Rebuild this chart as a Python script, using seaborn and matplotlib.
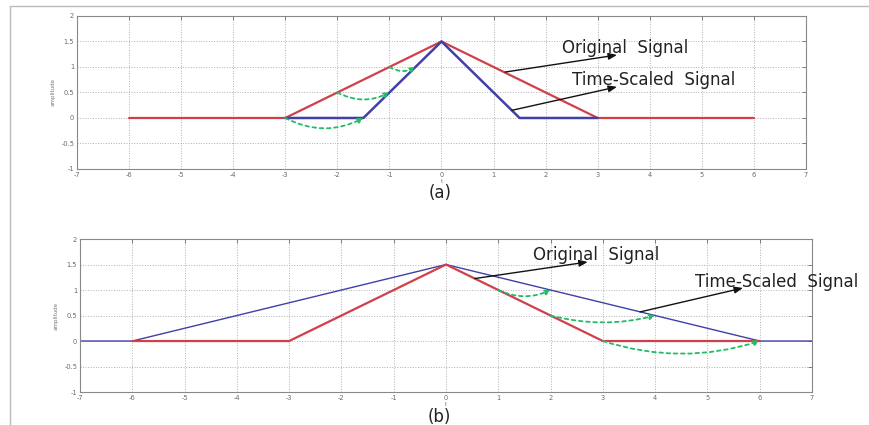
import matplotlib
matplotlib.use("Agg")
import matplotlib.pyplot as plt
import matplotlib.lines as mlines
import seaborn as sns
import numpy as np
import pandas as pd

sns.set_style("white")
plt.rcParams['font.family'] = ['DejaVu Sans']

# ---- data ----
# panel (a): compression
t_orig_a = [-6, -3, 0, 3, 6]
y_orig_a = [0, 0, 1.5, 0, 0]
t_scaled_a = [-3, -1.5, 0, 1.5, 3]
y_scaled_a = [0, 0, 1.5, 0, 0]
# panel (b): expansion
t_orig_b = [-6, -3, 0, 3, 6]
y_orig_b = [0, 0, 1.5, 0, 0]
t_scaled_b = [-7, -6, 0, 6, 7]
y_scaled_b = [0, 0, 1.5, 0, 0]

# green mapping arcs: (x_from, x_to, level)
arcs_a_from = [-3, -2, -1]
arcs_a_to = [-1.5, -1, -0.5]
arcs_a_level = [0, 0.5, 1]
arcs_b_from = [3, 2, 1]
arcs_b_to = [6, 4, 2]
arcs_b_level = [0, 0.5, 1]

labels = ["Original  Signal", "Time-Scaled  Signal"]
xticks = list(range(-7, 8))
yticks = [-1, -0.5, 0, 0.5, 1, 1.5, 2]
ytick_labels = ["-1", "-0.5", "0", "0.5", "1", "1.5", "2"]

RED = "#d0404a"
BLUE = "#4040a8"
GREEN = "#22bb66"

fig = plt.figure(figsize=(8.69, 4.25), dpi=100)
ax_a = fig.add_axes([0.0886, 0.6024, 0.8389, 0.36])
ax_b = fig.add_axes([0.0921, 0.0776, 0.8423, 0.36])


def style_axes(ax):
    ax.set_xlim(-7, 7)
    ax.set_ylim(-1, 2)
    ax.set_xticks(xticks)
    ax.set_xticklabels([str(v) for v in xticks])
    ax.set_yticks(yticks)
    ax.set_yticklabels(ytick_labels)
    ax.grid(True, linestyle=':', color='#b0b0b0', lw=0.7)
    ax.tick_params(direction='in', length=3, width=0.6, labelsize=4.8,
                   colors='#6a6a6a', top=True, right=True, pad=2)
    for s in ax.spines.values():
        s.set_color('#888888')
        s.set_linewidth(0.8)
    ax.set_xlabel('t', fontsize=4, color='#777777', labelpad=1)
    ax.set_ylabel('amplitude', fontsize=4, color='#777777', labelpad=4)


def draw_arcs(ax, xs, xe, lv, rads):
    for a, b, l, r in zip(xs, xe, lv, rads):
        ax.annotate('', xy=(b, l), xytext=(a, l),
                    arrowprops=dict(arrowstyle='-|>,head_length=0.3,head_width=0.15',
                                    color=GREEN, lw=1.3, linestyle=(0, (2, 2)),
                                    connectionstyle=f'arc3,rad={r}',
                                    shrinkA=0, shrinkB=0))


TXT = dict(fontsize=12, va='center', ha='left', color='#222222')
ARW = dict(arrowstyle='-|>,head_length=0.5,head_width=0.2',
           color='#111111', lw=1.0, shrinkA=0, shrinkB=0)

# panel (a)
sns.lineplot(x=t_orig_a, y=y_orig_a, ax=ax_a, color=RED, lw=1.6)
sns.lineplot(x=t_scaled_a, y=y_scaled_a, ax=ax_a, color=BLUE, lw=1.8)
draw_arcs(ax_a, arcs_a_from, arcs_a_to, arcs_a_level, [0.26, 0.26, 0.3])
style_axes(ax_a)
ax_a.text(2.31, 1.37, labels[0], **TXT)
ax_a.text(2.51, 0.745, labels[1], **TXT)
ax_a.annotate('', xy=(3.37, 1.235), xytext=(1.22, 0.9), arrowprops=ARW)
ax_a.annotate('', xy=(3.37, 0.61), xytext=(1.35, 0.15), arrowprops=ARW)

# panel (b)
sns.lineplot(x=t_scaled_b, y=y_scaled_b, ax=ax_b, color=BLUE, lw=1.0)
sns.lineplot(x=t_orig_b, y=y_orig_b, ax=ax_b, color=RED, lw=1.6)
draw_arcs(ax_b, arcs_b_from, arcs_b_to, arcs_b_level, [0.16, 0.13, 0.23])
style_axes(ax_b)
ax_b.text(1.66, 1.69, labels[0], **TXT)
ax_b.text(4.76, 1.157, labels[1], clip_on=False, **TXT)
ax_b.annotate('', xy=(2.71, 1.55), xytext=(0.55, 1.225), arrowprops=ARW)
ax_b.annotate('', xy=(5.68, 1.04), xytext=(3.71, 0.57), arrowprops=ARW)

# panel captions
fig.text(0.506, 0.546, '(a)', fontsize=12, ha='center', va='center', color='#222222')
fig.text(0.506, 0.019, '(b)', fontsize=12, ha='center', va='center', color='#222222')

# image border lines
fig.add_artist(mlines.Line2D([0.0115, 1.0], [0.986, 0.986], color='#bbbbbb', lw=1.0,
                             transform=fig.transFigure))
fig.add_artist(mlines.Line2D([0.0115, 0.0115], [0.0, 0.986], color='#bbbbbb', lw=1.0,
                             transform=fig.transFigure))

fig.savefig('out.png', dpi=100)
